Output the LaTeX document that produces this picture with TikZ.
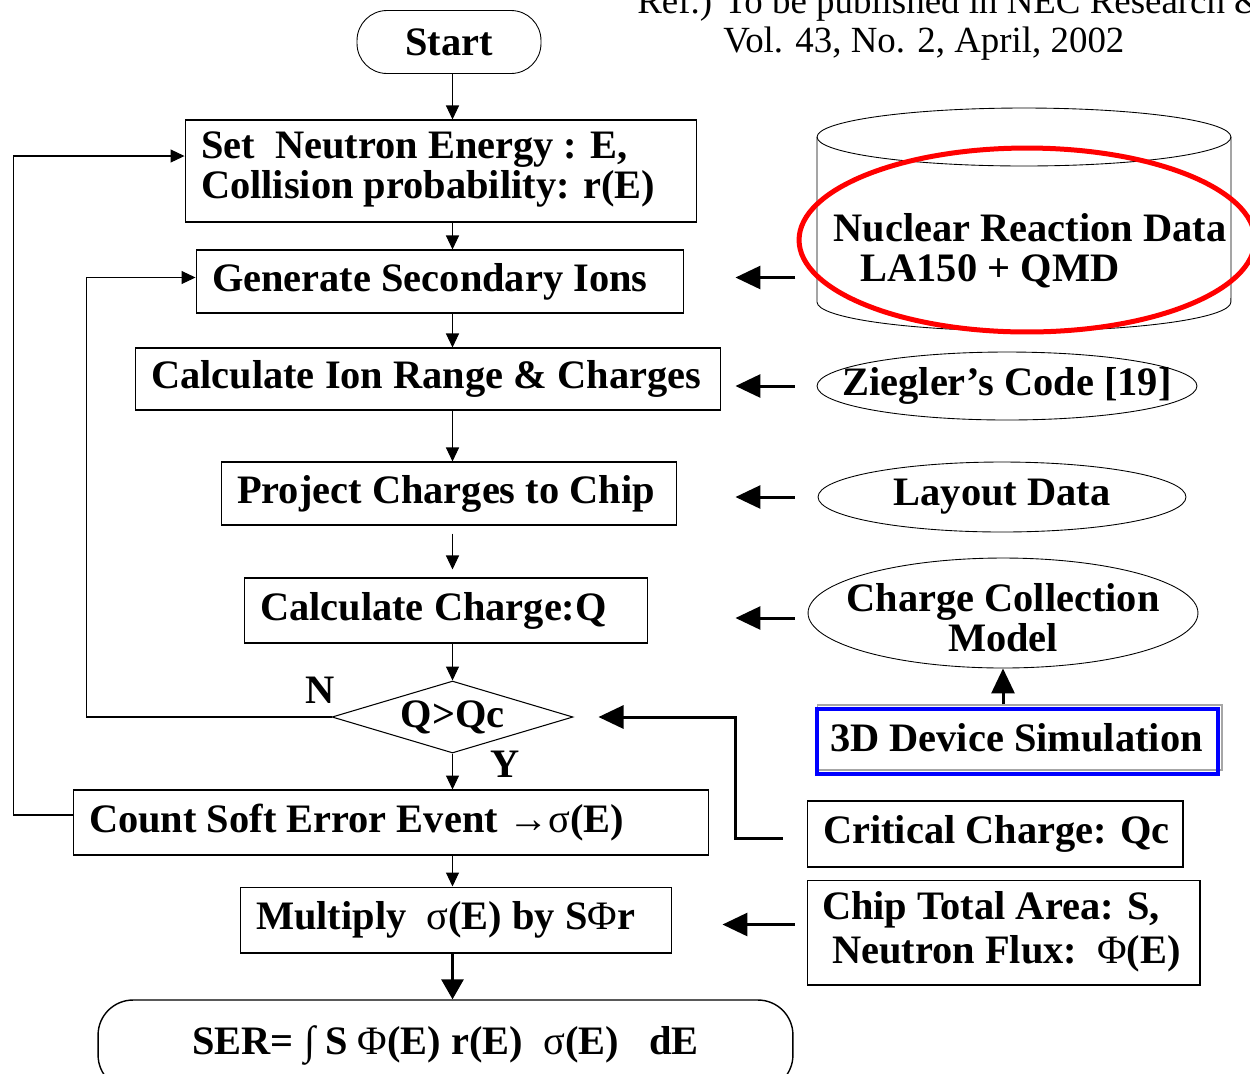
\documentclass[tikz,border=0pt]{standalone}
\usepackage{fontspec}
\setmainfont{Liberation Serif}
\usetikzlibrary{shapes.geometric,arrows.meta}
\newcommand{\lline}[2]{\makebox[#1][l]{#2}}

\begin{document}
\begin{tikzpicture}[x=0.02cm,y=-0.02cm,
    box/.style={draw,line width=0.6pt,inner xsep=0.32cm,inner ysep=0pt,font=\bfseries\fontsize{23}{22.5}\selectfont},
    oval/.style={draw,ellipse,line width=0.5pt,inner sep=0pt,font=\bfseries\fontsize{23}{22.5}\selectfont},
    lbl/.style={inner sep=0pt,font=\bfseries\fontsize{23}{22.5}\selectfont},
    arr/.style={line width=0.6pt,-{Triangle[length=0.28cm,width=0.26cm]}},
    bigarr/.style={line width=0.06cm,-{Triangle[length=0.5cm,width=0.46cm]}}]
  \useasboundingbox (0,0) rectangle (1250,1073);
  \clip (0,0) rectangle (1250,1073);
  % header
  \node[anchor=base west,inner sep=0pt,font=\fontsize{21}{22}\selectfont] (ref) at (637,13) {Ref.) To be published in NEC Research \&};
  \node[anchor=base west,inner sep=0pt,font=\fontsize{21}{22}\selectfont] (vol) at (723,52) {Vol. 43, No. 2, April, 2002};
  % flow
  \node[lbl,draw,line width=0.5pt,rounded corners=0.6cm,minimum width=3.68cm,minimum height=1.26cm] (start) at (449,42) {Start};
  \node[box,minimum height=2.04cm] (energy) at (441,171) {\lline{9.6cm}{\begin{tabular}{@{}l@{}}Set\ \ Neutron Energy : E,\\Collision probability: r(E)\end{tabular}}};
  \node[box,minimum height=1.26cm] (gen) at (440,281.5) {\lline{9.12cm}{Generate Secondary Ions}};
  \node[box,minimum height=1.24cm] (calc) at (428,379) {\lline{11.08cm}{Calculate Ion Range \& Charges}};
  \node[box,minimum height=1.26cm] (proj) at (449,493.5) {\lline{8.48cm}{Project Charges to Chip}};
  \node[box,minimum height=1.3cm] (charge) at (446,610.5) {\lline{7.44cm}{Calculate Charge:Q}};
  \node[lbl,draw,line width=0.6pt,diamond,aspect=3.35,minimum width=4.82cm,minimum height=1.44cm] (dec) at (452.5,717) {Q>Qc};
  \node[box,minimum height=1.3cm] (count) at (391,822.5) {\lline{12.08cm}{Count Soft Error Event {\mdseries→σ}(E)}};
  \node[box,minimum height=1.32cm] (mult) at (456,920) {\lline{8.0cm}{Multiply\ \ {\mdseries σ}(E) by S{\mdseries Φ}r}};
  \node[lbl,draw,line width=0.8pt,rounded corners=0.7cm,minimum width=13.9cm,minimum height=1.8cm] (ser) at (445.5,1045) {SER= {\mdseries ∫} S {\mdseries Φ}(E) r(E)\ \ {\mdseries σ}(E)\ \ \ dE};
  \node[lbl] (nlab) at (320,690) {N};
  \node[lbl] (ylab) at (505,764) {Y};
  % database
  \draw[line width=0.5pt] (1024,137) ellipse [x radius=4.14cm,y radius=0.58cm];
  \draw[line width=0.5pt] (817,137) -- (817,302) arc[start angle=180,end angle=360,x radius=4.14cm,y radius=0.58cm] -- (1231,137);
  \node[lbl,align=left] (db) at (1030,251) {Nuclear Reaction Data\\\hspace{0.54cm}LA150 + QMD};
  \draw[red,line width=0.1cm] (1027,240) ellipse [x radius=4.56cm,y radius=1.84cm];
  % inputs
  \node[oval,minimum width=7.6cm,minimum height=1.36cm] (zieg) at (1007,386) {\makebox[0pt]{Ziegler’s Code [19]}};
  \node[oval,minimum width=7.36cm,minimum height=1.4cm] (layout) at (1002,497) {\makebox[0pt]{Layout Data}};
  \node[oval,minimum width=7.8cm,minimum height=2.2cm] (ccm) at (1003,613) {\makebox[0pt]{\raisebox{-0.43cm}[0pt][0pt]{\begin{tabular}{@{}c@{}}Charge Collection\\Model\end{tabular}}}};
  \node[box,draw=gray!70,inner xsep=0.26cm,minimum height=1.3cm] (sim) at (1019.5,737.5) {\lline{7.58cm}{3D Device Simulation}};
  \draw[blue,line width=0.08cm] ([yshift=-0.06cm]sim.south west) rectangle ([xshift=-0.1cm,yshift=-0.1cm]sim.north east);
  \node[box,minimum height=1.32cm] (crit) at (995,834) {\lline{6.88cm}{Critical Charge: Qc}};
  \node[box,inner xsep=0.3cm,minimum height=2.1cm,font=\bfseries\fontsize{23}{25}\selectfont] (area) at (1003.5,932.5) {\lline{7.26cm}{\begin{tabular}{@{}l@{}}Chip Total Area: S,\\\ Neutron Flux:\ \ {\mdseries Φ}(E)\end{tabular}}};
  \coordinate (bend) at (735,0);
  % main arrows
  \draw[arr] (dec.north |- start.south) -- (dec.north |- energy.north);
  \draw[arr] (dec.north |- energy.south) -- (dec.north |- gen.north);
  \draw[arr] (dec.north |- gen.south) -- (dec.north |- calc.north);
  \draw[arr] (dec.north |- calc.south) -- (dec.north |- proj.north);
  \draw[arr,shorten <=0.16cm,shorten >=0.16cm] (dec.north |- proj.south) -- (dec.north |- charge.north);
  \draw[arr] (dec.north |- charge.south) -- (dec.north);
  \draw[arr] (dec.south) -- (dec.south |- count.north);
  \draw[arr] (dec.south |- count.south) -- (dec.south |- mult.north);
  \draw[line width=0.06cm,-{Triangle[length=0.4cm,width=0.44cm]}] (dec.south |- mult.south) -- (dec.south |- ser.north);
  % loops back
  \draw[arr] (dec.west) -- ++(-245,0) |- ([yshift=0.08cm]gen.west);
  \draw[arr] ([yshift=0.15cm]count.west) -- ++(-59,0) |- ([yshift=0.3cm]energy.west);
  % inputs from the right
  \draw[bigarr,shorten <=0.76cm,shorten >=1.02cm] ([yshift=0.08cm]db.west |- gen.east) -- ([yshift=0.08cm]gen.east);
  \draw[bigarr,shorten <=0.44cm,shorten >=0.28cm] (zieg.west) -- (calc.east |- zieg.west);
  \draw[bigarr,shorten <=0.46cm,shorten >=1.16cm] (layout.west) -- (proj.east |- layout.west);
  \draw[bigarr,shorten <=0.26cm,shorten >=1.74cm] ([yshift=-0.1cm]ccm.west) -- ([yshift=-0.1cm]charge.east |- ccm.west);
  \draw[bigarr,shorten <=0.24cm,shorten >=1.0cm] ([yshift=0.16cm]area.west) -- ([yshift=0.16cm]mult.east |- area.west);
  \draw[bigarr] (ccm.south |- sim.north) -- (ccm.south);
  \draw[bigarr,shorten <=0.48cm,shorten >=0.5cm] ([yshift=-0.08cm]crit.west) -- ([yshift=-0.08cm]crit.west -| bend) |- (dec.east);
\end{tikzpicture}
\end{document}
